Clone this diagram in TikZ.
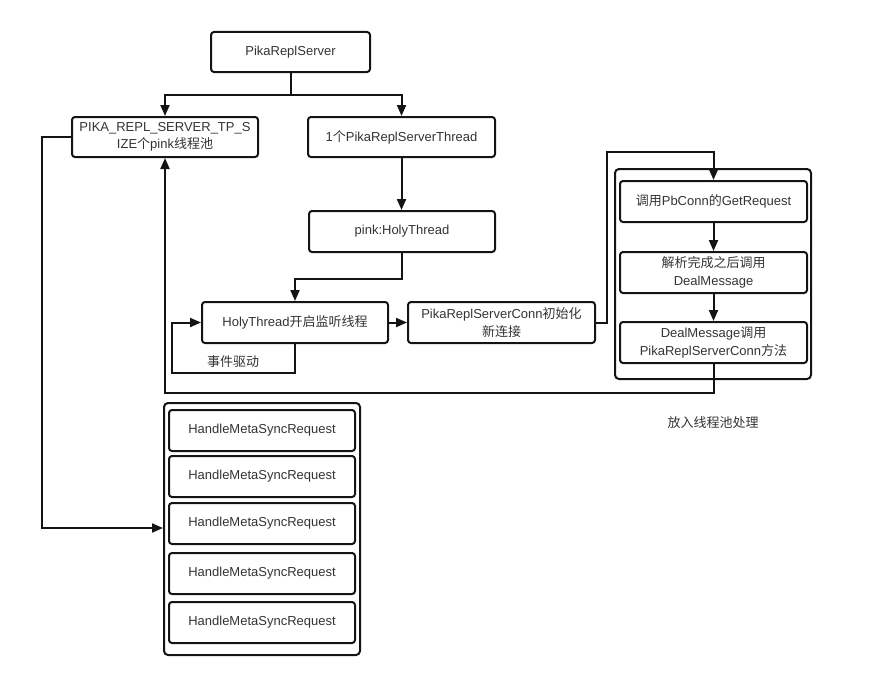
\documentclass[tikz,border=0pt]{standalone}
\usepackage{fontspec}
\setmainfont{Liberation Sans}
\newfontfamily\cjk{Noto Sans CJK SC}
\usetikzlibrary{arrows.meta}
\definecolor{txt}{RGB}{51,51,51}
\definecolor{ln}{RGB}{20,20,20}
\begin{document}
\begin{tikzpicture}[x=1pt,y=-1pt,
  box/.style={draw=ln, rounded corners=3pt, line width=2pt, minimum width=187pt, minimum height=41pt,
    inner sep=0pt, align=center, font=\fontsize{13}{17.5}\selectfont, text=txt},
  frame/.style={draw=ln, rounded corners=4pt, line width=2pt, inner sep=0pt},
  lbl/.style={font=\fontsize{13}{17.5}\selectfont, text=txt, inner sep=0pt},
  conn/.style={draw=ln, line width=2pt},
  arr/.style={conn, -{Triangle[length=11pt,width=9pt]}}]
\useasboundingbox (0,0) rectangle (885,677);
% top
\node[box, minimum width=159pt, minimum height=40pt] (srv) at (290.5,52) {PikaReplServer};
\node[box, minimum width=186pt, minimum height=40pt] (pool) at (165,137) {PIKA\_REPL\_SERVER\_TP\_S\\IZE{\cjk 个}pink{\cjk 线程池}};
\node[box, minimum height=40pt] (thr) at (401.5,137) {1{\cjk 个}PikaReplServerThread};
\node[box, minimum width=186pt] (holy) at (402,231.5) {pink:HolyThread};
\node[box, minimum width=186pt] (listen) at (295,322.5) {HolyThread{\cjk 开启监听线程}};
\node[box] (pconn) at (501.5,322.5) {PikaReplServerConn{\cjk 初始化}\\{\cjk 新连接}};
% right container
\node[frame, minimum width=196pt, minimum height=210pt] (rc) at (713,274) {};
\node[box] (g1) at (713.5,201.5) {{\cjk 调用}PbConn{\cjk 的}GetRequest};
\node[box] (g2) at (713.5,272.5) {{\cjk 解析完成之后调用}\\DealMessage};
\node[box] (g3) at (713.5,342.5) {DealMessage{\cjk 调用}\\PikaReplServerConn{\cjk 方法}};
\node[lbl] (put) at (713,423) {\cjk 放入线程池处理};
% left container
\node[frame, minimum width=196pt, minimum height=252pt] (lc) at (262,529) {};
\node[box, minimum width=186pt] (h1) at (262,430.5) {HandleMetaSyncRequest};
\node[box, minimum width=186pt] (h2) at (262,476.5) {HandleMetaSyncRequest};
\node[box, minimum width=186pt] (h3) at (262,523.5) {HandleMetaSyncRequest};
\node[box, minimum width=186pt] (h4) at (262,573.5) {HandleMetaSyncRequest};
\node[box, minimum width=186pt] (h5) at (262,622.5) {HandleMetaSyncRequest};
\node[lbl] (evt) at (233,362) {\cjk 事件驱动};
% connectors
\coordinate (sp) at (290.5,95);
\draw[conn] (srv.south) -- (sp);
\draw[arr] (sp) -| (pool.north);
\draw[arr] (sp) -| (thr.north);
\draw[arr] (thr.south) -- (thr.south |- holy.north);
\draw[arr] (holy.south) -- ++(0,25.5) -| (listen.north);
\draw[arr] (listen) -- (pconn);
\coordinate (lb) at (172,373);
\draw[arr] (listen.south) |- (lb) |- (listen.west);
\coordinate (c1) at (607,152);
\draw[arr] (pconn.east) -| (c1) -| (g1.north);
\draw[arr] (g1) -- (g2);
\draw[arr] (g2) -- (g3);
\coordinate (c2) at (713.5,393);
\draw[arr] (g3.south) -- (c2) -| (pool.south);
\coordinate (c3) at (42,528);
\draw[arr] (pool.west) -| (c3) -- (c3 -| lc.west);
\end{tikzpicture}
\end{document}
